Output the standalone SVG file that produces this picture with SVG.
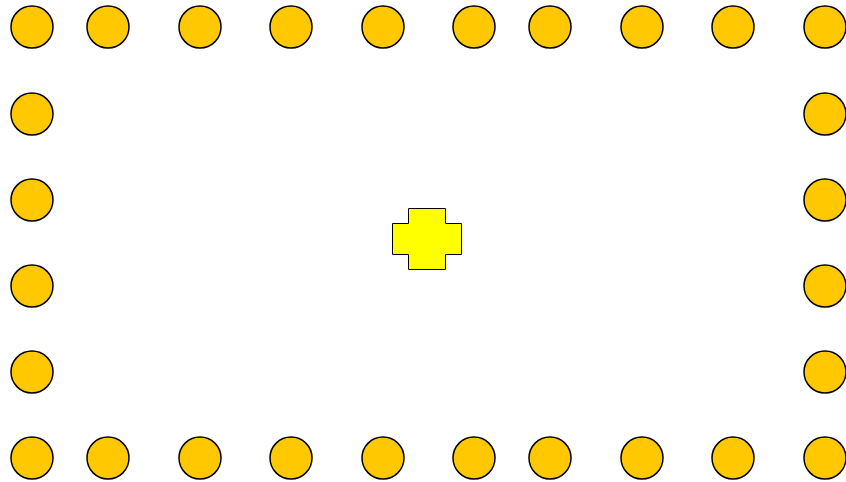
<svg xmlns="http://www.w3.org/2000/svg" width="846" height="482" viewBox="0 0 846 482">
<style>
.n{fill:#ffc800;stroke:#000;stroke-width:1.5}
.x{fill:#ffff00;stroke:#000;stroke-width:1}
</style>
<rect width="846" height="482" fill="#fff"/>
<g id="top">
<circle class="n" cx="32" cy="27" r="21"/>
<circle class="n" cx="108" cy="27" r="21"/>
<circle class="n" cx="200" cy="27" r="21"/>
<circle class="n" cx="291" cy="27" r="21"/>
<circle class="n" cx="383" cy="27" r="21"/>
<circle class="n" cx="474" cy="27" r="21"/>
<circle class="n" cx="550" cy="27" r="21"/>
<circle class="n" cx="642" cy="27" r="21"/>
<circle class="n" cx="733" cy="27" r="21"/>
<circle class="n" cx="825" cy="27" r="21"/>
</g>
<g id="bottom">
<circle class="n" cx="32" cy="458" r="21"/>
<circle class="n" cx="108" cy="458" r="21"/>
<circle class="n" cx="200" cy="458" r="21"/>
<circle class="n" cx="291" cy="458" r="21"/>
<circle class="n" cx="383" cy="458" r="21"/>
<circle class="n" cx="474" cy="458" r="21"/>
<circle class="n" cx="550" cy="458" r="21"/>
<circle class="n" cx="642" cy="458" r="21"/>
<circle class="n" cx="733" cy="458" r="21"/>
<circle class="n" cx="825" cy="458" r="21"/>
</g>
<g id="left">
<circle class="n" cx="32" cy="114" r="21"/>
<circle class="n" cx="32" cy="200" r="21"/>
<circle class="n" cx="32" cy="286" r="21"/>
<circle class="n" cx="32" cy="372" r="21"/>
</g>
<g id="right">
<circle class="n" cx="825" cy="114" r="21"/>
<circle class="n" cx="825" cy="200" r="21"/>
<circle class="n" cx="825" cy="286" r="21"/>
<circle class="n" cx="825" cy="372" r="21"/>
</g>
<g id="cross">
<path class="x" d="M408.5 208.5H445.5V223.5H461.5V254.5H445.5V269.5H408.5V254.5H392.5V223.5H408.5Z"/>
</g>
<g id="connectors"/>
</svg>
